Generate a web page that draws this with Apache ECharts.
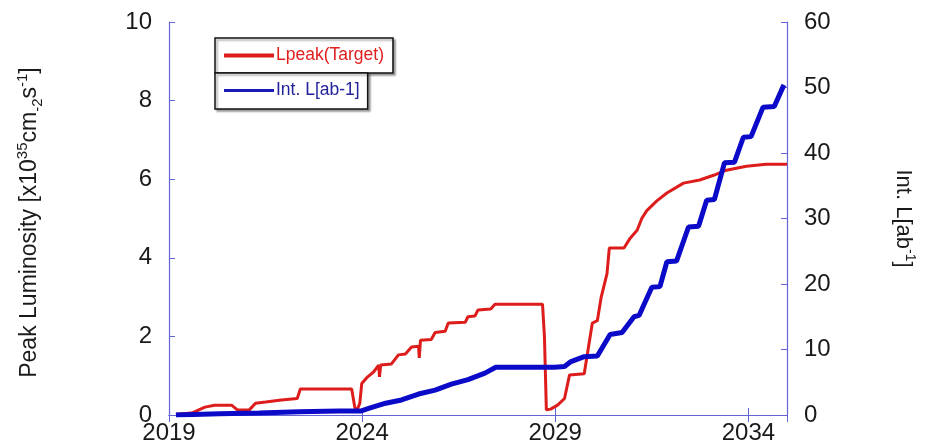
<!DOCTYPE html>
<html>
<head>
<meta charset="utf-8">
<script src="https://cdn.jsdelivr.net/npm/echarts@6/dist/echarts.min.js"></script>
<style>
html,body{margin:0;padding:0;background:#fff;}
#c{width:925px;height:448px;}
</style>
</head>
<body>
<div id="c"></div>
<script>
// Peak luminosity (left axis, x10^35 cm-2 s-1)
const peakYears = [2019.18,2019.59,2019.93,2020.18,2020.62,2020.77,2021.08,2021.24,2021.50,2021.91,2022.32,2022.40,2023.73,2023.81,2023.86,2023.94,2023.99,2024.12,2024.30,2024.43,2024.45,2024.48,2024.76,2024.94,2025.12,2025.28,2025.46,2025.48,2025.51,2025.79,2025.89,2026.15,2026.23,2026.67,2026.74,2026.92,2027.00,2027.33,2027.44,2028.67,2028.72,2028.77,2028.88,2029.06,2029.24,2029.37,2029.75,2029.96,2030.09,2030.19,2030.34,2030.40,2030.78,2030.94,2031.12,2031.24,2031.37,2031.63,2031.89,2032.32,2032.74,2033.10,2033.43,2033.95,2034.46,2035.00];
const peakValues = [0.02,0.05,0.20,0.25,0.25,0.13,0.13,0.30,0.33,0.38,0.42,0.66,0.66,0.20,0.10,0.30,0.80,0.95,1.10,1.27,0.97,1.27,1.30,1.53,1.55,1.73,1.75,1.45,1.90,1.92,2.10,2.13,2.34,2.36,2.50,2.52,2.67,2.70,2.82,2.82,2.00,0.13,0.15,0.25,0.42,1.02,1.05,2.34,2.40,3.00,3.60,4.25,4.25,4.50,4.70,5.00,5.20,5.45,5.65,5.90,5.98,6.10,6.23,6.33,6.38,6.38];
// Integrated luminosity (right axis, ab^-1)
const intYears = [2019.18,2020.31,2021.34,2022.37,2023.40,2023.96,2024.17,2024.61,2025.02,2025.46,2025.89,2026.31,2026.74,2027.18,2027.46,2028.98,2029.24,2029.39,2029.75,2030.09,2030.42,2030.73,2031.04,2031.17,2031.50,2031.71,2031.89,2032.14,2032.45,2032.71,2032.92,2033.12,2033.38,2033.64,2033.87,2034.07,2034.38,2034.67,2034.92];
const intValues = [0.0,0.2,0.3,0.5,0.6,0.6,1.0,1.8,2.3,3.2,3.8,4.7,5.4,6.4,7.3,7.3,7.4,8.1,8.9,9.0,12.3,12.6,15.0,15.2,19.5,19.6,23.4,23.5,28.7,28.8,32.8,32.9,38.5,38.6,42.4,42.5,47.0,47.1,50.4];
const xTickLabels = [2019, 2024, 2029, 2034];
const leftTicks = [0, 2, 4, 6, 8, 10];
const rightTicks = [0, 10, 20, 30, 40, 50, 60];
const seriesNames = ['Lpeak(Target)', 'Int. L[ab-1]'];

const axisBlue = '#6464d8';
const lblFont = 'Liberation Sans, Arial, sans-serif';
const chart = echarts.init(document.getElementById('c'), null, {renderer: 'canvas'});

const peakData = peakYears.map((y, i) => [y, peakValues[i]]);
const intData = intYears.map((y, i) => [y, intValues[i]]);

const xBase = {
  type: 'value', min: xTickLabels[0], max: 2035, interval: 5,
  axisLine: {show: true, lineStyle: {color: axisBlue, width: 1.2}},
  axisTick: {show: true, inside: true, length: 7, lineStyle: {color: axisBlue}},
  splitLine: {show: false}
};

chart.setOption({
  animation: false,
  backgroundColor: '#fff',
  grid: {left: 169, right: 134, top: 22, bottom: 33, containLabel: false},
  legend: [
    {
      data: [seriesNames[0]], left: 215, top: 38, orient: 'vertical',
      icon: 'rect', itemWidth: 50, itemHeight: 4, itemGap: 0,
      padding: [8, 9, 8, 9], borderColor: '#111', borderWidth: 1.5,
      shadowColor: 'rgba(0,0,0,0.35)', shadowBlur: 2, shadowOffsetX: 2, shadowOffsetY: 2,
      backgroundColor: '#fff',
      textStyle: {color: '#e01f1f', fontSize: 17.5, fontFamily: lblFont, lineHeight: 19, padding: [0, 0, 0, -3]}
    },
    {
      data: [seriesNames[1]], left: 215, top: 73, orient: 'vertical',
      icon: 'rect', itemWidth: 50, itemHeight: 3, itemGap: 0,
      padding: [8, 8, 9, 9], borderColor: '#111', borderWidth: 1.5,
      shadowColor: 'rgba(0,0,0,0.35)', shadowBlur: 2, shadowOffsetX: 2, shadowOffsetY: 2,
      backgroundColor: '#fff',
      textStyle: {color: '#22229a', fontSize: 17.5, fontFamily: lblFont, lineHeight: 19, padding: [0, 0, 0, -3]}
    }
  ],
  xAxis: [
    Object.assign({}, xBase, {
      position: 'bottom',
      axisLabel: {show: true, margin: 6, color: '#1a1a1a', fontSize: 24, fontFamily: lblFont,
        formatter: v => (xTickLabels.indexOf(v) >= 0 ? String(v) : '')}
    }),
    Object.assign({}, xBase, {
      position: 'top',
      axisLabel: {show: false}
    })
  ],
  yAxis: [
    {
      type: 'value', min: leftTicks[0], max: leftTicks[leftTicks.length - 1], interval: 2,
      position: 'left',
      axisLine: {show: true, lineStyle: {color: axisBlue, width: 1.2}},
      axisTick: {show: true, inside: true, length: 6, lineStyle: {color: axisBlue}},
      splitLine: {show: false},
      axisLabel: {margin: 17, color: '#1a1a1a', fontSize: 24, fontFamily: lblFont},
      name: 'Peak Luminosity [x10{sup|35}cm{sub|-2}s{sup|-1}]',
      nameLocation: 'middle', nameRotate: 90, nameGap: 124,
      nameTextStyle: {
        color: '#1a1a1a', fontSize: 23, fontFamily: lblFont, lineHeight: 30, padding: [0, 8, 0, 0],
        rich: {
          sup: {fontSize: 15, fontFamily: lblFont, color: '#1a1a1a', verticalAlign: 'top', lineHeight: 15},
          sub: {fontSize: 15, fontFamily: lblFont, color: '#1a1a1a', verticalAlign: 'bottom', lineHeight: 15}
        }
      }
    },
    {
      type: 'value', min: rightTicks[0], max: rightTicks[rightTicks.length - 1], interval: 10,
      position: 'right',
      axisLine: {show: true, lineStyle: {color: axisBlue, width: 1.2}},
      axisTick: {show: true, inside: true, length: 6, lineStyle: {color: axisBlue}},
      splitLine: {show: false},
      axisLabel: {margin: 17, color: '#1a1a1a', fontSize: 24, fontFamily: lblFont},
      name: 'Int. L[ab{sup|-1}]',
      nameLocation: 'middle', nameRotate: -90, nameGap: 102,
      nameTextStyle: {
        color: '#1a1a1a', fontSize: 22, fontFamily: lblFont, lineHeight: 28,
        rich: {
          sup: {fontSize: 14, fontFamily: lblFont, color: '#1a1a1a', verticalAlign: 'top', lineHeight: 14}
        }
      }
    }
  ],
  series: [
    {
      name: seriesNames[0], type: 'line', xAxisIndex: 0, yAxisIndex: 0,
      data: peakData, showSymbol: false, symbol: 'none',
      lineStyle: {color: '#dd1c1c', width: 3}, itemStyle: {color: '#dd1c1c'}, z: 2
    },
    {
      name: seriesNames[1], type: 'line', xAxisIndex: 0, yAxisIndex: 1,
      data: intData, showSymbol: false, symbol: 'none',
      lineStyle: {color: '#0a0ac8', width: 5}, itemStyle: {color: '#1a1ab8'}, z: 3
    }
  ]
});
</script>
</body>
</html>
